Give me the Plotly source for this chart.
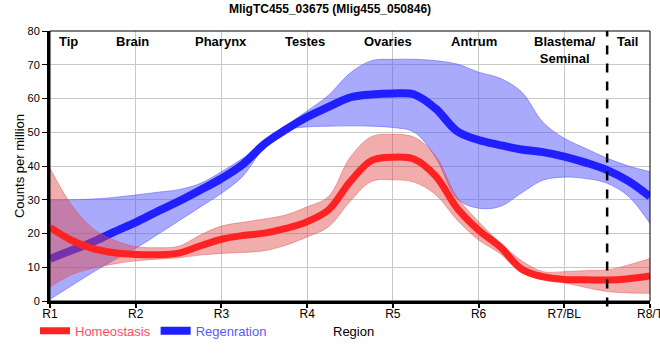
import plotly.graph_objects as go

# Region positions (1 = R1 ... 8 = R8/T), sampled every quarter region
pos = [1.00, 1.25, 1.50, 1.75, 2.00, 2.25, 2.50, 2.75, 3.00, 3.25, 3.50, 3.75, 4.00, 4.25,
       4.50, 4.75, 5.00, 5.25, 5.50, 5.75, 6.00, 6.25, 6.50, 6.75, 7.00, 7.25, 7.50, 7.75, 8.00]

regen_mean = [12.5, 15.0, 17.5, 20.5, 23.3, 26.5, 29.5, 32.8, 36.3, 40.5, 46.5, 50.8, 54.5, 57.5,
              60.3, 61.2, 61.5, 61.2, 57.0, 50.3, 47.7, 46.2, 44.9, 44.1, 42.8, 41.0, 38.8, 35.5, 30.9]
regen_hi = [30.0, 30.0, 30.2, 30.7, 31.4, 32.2, 33.0, 34.8, 38.3, 42.3, 46.6, 51.8, 56.3, 61.0,
            67.5, 71.2, 71.6, 71.6, 71.2, 70.2, 67.8, 66.0, 62.0, 53.0, 48.2, 45.2, 42.3, 40.0, 38.3]
regen_lo = [0.5, 4.5, 8.5, 12.2, 15.6, 19.6, 23.7, 27.8, 31.9, 37.0, 45.6, 50.5, 51.6, 51.8,
            51.9, 51.8, 51.4, 50.0, 42.5, 30.3, 27.5, 28.0, 32.0, 35.8, 36.7, 36.3, 34.9, 31.0, 23.0]

homeo_mean = [21.8, 18.0, 15.5, 14.3, 13.8, 13.7, 14.2, 16.3, 18.3, 19.4, 20.1, 21.5, 23.5, 27.0,
              35.3, 41.6, 42.6, 42.0, 37.0, 27.5, 21.0, 16.1, 9.5, 7.2, 6.4, 6.3, 6.2, 6.6, 7.4]
homeo_hi = [39.3, 28.5, 21.5, 18.0, 16.1, 15.8, 16.2, 19.5, 22.2, 23.3, 24.3, 25.5, 27.9, 31.0,
            42.5, 48.7, 49.4, 48.5, 43.0, 30.8, 23.5, 17.3, 12.0, 8.7, 8.7, 9.0, 9.2, 10.7, 12.6]
homeo_lo = [4.2, 7.8, 9.7, 11.0, 11.9, 12.4, 12.8, 13.6, 14.1, 14.4, 14.9, 16.5, 19.0, 22.0,
            29.5, 35.4, 35.9, 35.2, 31.5, 24.0, 18.1, 14.1, 8.5, 6.2, 5.4, 4.0, 2.8, 2.4, 2.3]

tick_pos = [1, 2, 3, 4, 5, 6, 7, 8]
tick_labels = ["R1", "R2", "R3", "R4", "R5", "R6", "R7/BL", "R8/T"]

tissue_labels = ["Tip", "Brain", "Pharynx", "Testes", "Ovaries", "Antrum", "Blastema/<br>Seminal", "Tail"]
tissue_pos = [1.22, 1.96, 2.99, 3.97, 4.94, 5.95, 7.01, 7.74]

title_text = "MligTC455_03675 (Mlig455_050846)"
boundary = 7.5

ARIAL = "Liberation Sans, Arial, sans-serif"

fig = go.Figure()

# Regeneration band + line
fig.add_trace(go.Scatter(x=pos, y=regen_lo, mode="lines", line=dict(color="rgba(90,90,255,0.55)", width=1, shape="spline"),
                         showlegend=False, hoverinfo="skip"))
fig.add_trace(go.Scatter(x=pos, y=regen_hi, mode="lines", line=dict(color="rgba(90,90,255,0.55)", width=1, shape="spline"),
                         fill="tonexty", fillcolor="rgba(85,85,250,0.5)", showlegend=False, hoverinfo="skip"))
fig.add_trace(go.Scatter(x=pos, y=regen_mean, mode="lines", name="<span style='color:#5a5aff'>Regenration</span>",
                         line=dict(color="#1f1fff", width=8, shape="spline")))

# Homeostasis band + line
fig.add_trace(go.Scatter(x=pos, y=homeo_lo, mode="lines", line=dict(color="rgba(225,80,80,0.45)", width=1, shape="spline"),
                         showlegend=False, hoverinfo="skip"))
fig.add_trace(go.Scatter(x=pos, y=homeo_hi, mode="lines", line=dict(color="rgba(225,80,80,0.45)", width=1, shape="spline"),
                         fill="tonexty", fillcolor="rgba(225,70,70,0.45)", showlegend=False, hoverinfo="skip"))
fig.add_trace(go.Scatter(x=pos, y=homeo_mean, mode="lines", name="<span style='color:#ff4d66'>Homeostasis</span>",
                         line=dict(color="#ff2222", width=7, shape="spline")))

# dashed boundary
fig.add_shape(type="line", xref="x", yref="paper", x0=boundary, x1=boundary, y0=-0.02, y1=1,
              line=dict(color="black", width=2.5, dash="dash"))
# thin frame top/right
fig.add_shape(type="rect", xref="paper", yref="paper", x0=0, x1=1, y0=0, y1=1,
              line=dict(color="black", width=1), layer="above")

for t, p in zip(tissue_labels, tissue_pos):
    fig.add_annotation(x=p, y=1, xref="x", yref="paper", text=f"<b>{t}</b>", showarrow=False,
                       yanchor="top", yshift=-1, font=dict(family=ARIAL, size=13, color="black"),
                       align="center")

# x-axis title placed like the reference (on the legend row)
fig.add_annotation(x=0.505, y=-0.112, xref="paper", yref="paper", text="Region", showarrow=False,
                   xanchor="center", yanchor="middle", font=dict(family=ARIAL, size=13, color="black"))

fig.update_layout(
    width=660, height=360,
    margin=dict(l=50, r=10, t=31, b=59),
    paper_bgcolor="white", plot_bgcolor="white",
    title=dict(text=f"<b>{title_text}</b>", x=0.5, xanchor="center", y=0.975, yanchor="middle",
               font=dict(family=ARIAL, size=12, color="black")),
    showlegend=True,
    legend=dict(orientation="h", x=-0.025, xanchor="left", y=-0.055, yanchor="top", traceorder="reversed",
                font=dict(family=ARIAL, size=13), bgcolor="rgba(0,0,0,0)", itemwidth=30,
                itemclick=False),
    xaxis=dict(range=[1, 8], tickmode="array", tickvals=tick_pos, ticktext=tick_labels,
               showgrid=True, gridcolor="#c8c8c8", gridwidth=1, zeroline=False,
               showline=True, linecolor="black", linewidth=3, ticks="outside", ticklen=4,
               tickcolor="black", tickwidth=1.5, ticklabeloverflow="allow", ticklabelstandoff=-4,
               tickfont=dict(family=ARIAL, size=12, color="black"),
               automargin=False),
    yaxis=dict(range=[0, 80], dtick=10, showgrid=True, gridcolor="#c8c8c8", gridwidth=1, zeroline=False,
               showline=True, linecolor="black", linewidth=3, ticks="outside", ticklen=5,
               tickcolor="black", tickwidth=1,
               tickfont=dict(family=ARIAL, size=11, color="black"),
               title=dict(text="Counts per million", font=dict(family=ARIAL, size=13, color="black"), standoff=0),
               automargin=False),
)

fig.write_html("out.html", post_script="document.body.style.margin='0px';",
               config={"displayModeBar": False})
